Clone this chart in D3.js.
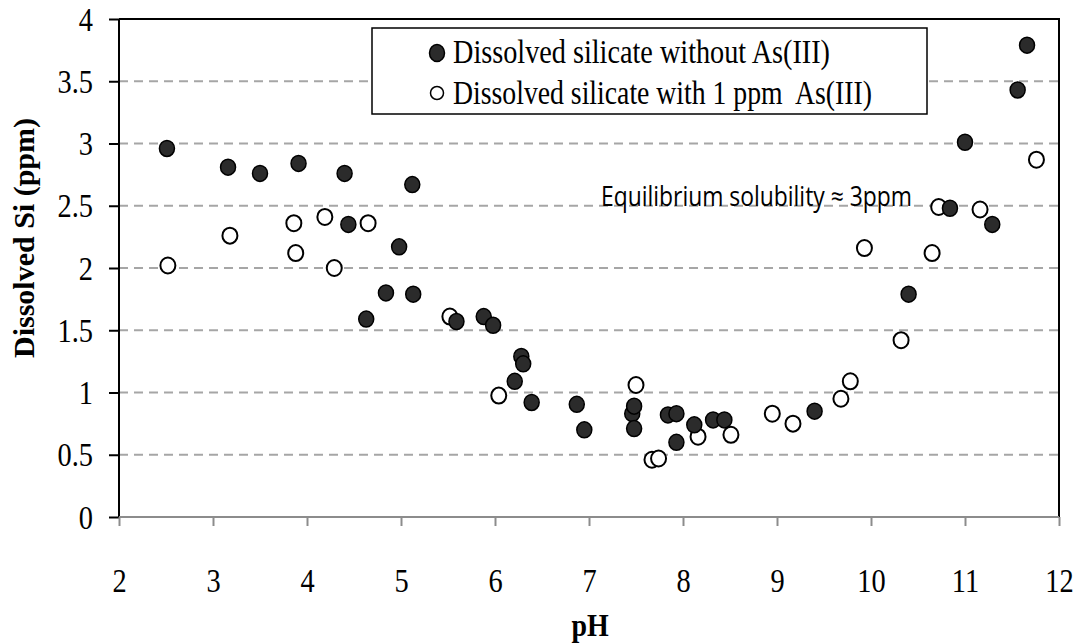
<!DOCTYPE html>
<html>
<head>
<meta charset="utf-8">
<script src="https://cdn.jsdelivr.net/npm/d3@7/dist/d3.min.js"></script>
<style>
  html, body { margin: 0; padding: 0; background: #fff; }
  svg { display: block; }
</style>
</head>
<body>
<svg id="chart" width="1083" height="643"></svg>
<script>
// pH and dissolved Si (ppm), silicate without As(III)
const phWithout = [2.51, 3.16, 3.50, 3.91, 4.40, 4.44, 4.63, 4.84, 4.98, 5.12, 5.13, 5.59, 5.88, 5.98,
  6.21, 6.28, 6.30, 6.39, 6.87, 6.95, 7.46, 7.48, 7.48, 7.84, 7.93, 7.93, 8.12, 8.32, 8.44,
  9.40, 10.40, 10.84, 11.00, 11.29, 11.56, 11.66];
const siWithout = [2.96, 2.81, 2.76, 2.84, 2.76, 2.35, 1.59, 1.80, 2.17, 2.67, 1.79, 1.57, 1.61, 1.54,
  1.09, 1.29, 1.23, 0.92, 0.905, 0.70, 0.83, 0.89, 0.71, 0.82, 0.83, 0.60, 0.74, 0.78, 0.78,
  0.85, 1.79, 2.48, 3.01, 2.35, 3.43, 3.79];

// pH and dissolved Si (ppm), silicate with 1 ppm As(III)
const phWith = [2.52, 3.18, 3.86, 3.88, 4.19, 4.29, 4.65, 5.52, 6.04, 7.50, 7.67, 7.74, 8.16, 8.51,
  8.95, 9.17, 9.68, 9.78, 9.93, 10.32, 10.65, 10.72, 11.16, 11.76];
const siWith = [2.02, 2.26, 2.36, 2.12, 2.41, 2.00, 2.36, 1.61, 0.975, 1.06, 0.46, 0.47, 0.645, 0.66,
  0.83, 0.75, 0.95, 1.09, 2.16, 1.42, 2.12, 2.49, 2.47, 2.87];

const xTicks = [2, 3, 4, 5, 6, 7, 8, 9, 10, 11, 12];
const yTicks = [0, 0.5, 1, 1.5, 2, 2.5, 3, 3.5, 4];
const yGrid = [0.5, 1, 1.5, 2, 2.5, 3, 3.5];

const seriesNames = ["Dissolved silicate without As(III)", "Dissolved silicate with 1 ppm  As(III)"];
const noteText = "Equilibrium solubility  \u2248 3ppm";

const serif = "'Liberation Serif', 'Times New Roman', serif";
const sans = "'Liberation Sans Narrow', 'Open Sans', 'Liberation Sans', sans-serif";

// narrow a text element horizontally to a fraction of its natural width
function condense(sel, k) {
  sel.each(function () {
    const w = this.getComputedTextLength();
    d3.select(this).attr("textLength", w * k).attr("lengthAdjust", "spacingAndGlyphs");
  });
}

const svg = d3.select("#chart");
const x = d3.scaleLinear().domain([2, 12]).range([119, 1059]);
const y = d3.scaleLinear().domain([0, 4]).range([517, 19]);

// dashed horizontal gridlines
svg.append("g").selectAll("line").data(yGrid).join("line")
  .attr("x1", x(2)).attr("x2", x(12))
  .attr("y1", d => y(d)).attr("y2", d => y(d))
  .attr("stroke", "#a6a6a6").attr("stroke-width", 2)
  .attr("stroke-dasharray", "9,6");

// plot-area frame (top and right)
svg.append("path")
  .attr("d", `M${x(2)},${y(4)}H${x(12)}V${y(0)}`)
  .attr("fill", "none").attr("stroke", "#000").attr("stroke-width", 2);

// y axis
const yAxis = svg.append("g")
  .attr("transform", `translate(${x(2)},0)`)
  .call(d3.axisLeft(y).tickValues(yTicks).tickSize(10).tickPadding(16)
    .tickFormat(d => String(d)));
yAxis.select(".domain").attr("stroke", "#000").attr("stroke-width", 2)
  .attr("d", `M0,${y(0)}V${y(4)}`);
yAxis.selectAll(".tick line").attr("stroke", "#000").attr("stroke-width", 2);
yAxis.selectAll(".tick text")
  .attr("font-family", serif).attr("font-size", 33).attr("fill", "#000")
  .attr("dy", "0.34em")
  .call(condense, 0.86);

// x axis
const xAxis = svg.append("g")
  .attr("transform", `translate(0,${y(0)})`)
  .call(d3.axisBottom(x).tickValues(xTicks).tickSize(9).tickPadding(22)
    .tickFormat(d => String(d)));
xAxis.select(".domain").attr("stroke", "#8c8c8c").attr("stroke-width", 2)
  .attr("d", `M${x(2)},0H${x(12)}`);
xAxis.selectAll(".tick line").attr("stroke", "#8c8c8c").attr("stroke-width", 2);
xAxis.selectAll(".tick text")
  .attr("font-family", serif).attr("font-size", 33).attr("fill", "#000")
  .attr("y", 75).attr("dy", 0)
  .call(condense, 0.86);

// axis titles
svg.append("text")
  .attr("transform", "translate(34,238) rotate(-90)")
  .attr("text-anchor", "middle")
  .attr("font-family", serif).attr("font-weight", "bold").attr("font-size", 30)
  .text("Dissolved Si (ppm)");
svg.append("text")
  .attr("x", 590).attr("y", 636)
  .attr("text-anchor", "middle")
  .attr("font-family", serif).attr("font-weight", "bold").attr("font-size", 31)
  .text("pH")
  .call(condense, 0.9);

// annotation
svg.append("text")
  .attr("x", 601).attr("y", 206)
  .attr("font-family", sans).attr("font-size", 27)
  .attr("textLength", 311).attr("lengthAdjust", "spacingAndGlyphs")
  .attr("fill", "#000")
  .text(noteText);

// markers: open series beneath, filled series on top
const withPts = phWith.map((p, i) => [p, siWith[i]]);
const withoutPts = phWithout.map((p, i) => [p, siWithout[i]]);

svg.append("g").selectAll("ellipse").data(withPts).join("ellipse")
  .attr("cx", d => x(d[0])).attr("cy", d => y(d[1]))
  .attr("rx", 7.5).attr("ry", 8)
  .attr("fill", "#fff").attr("stroke", "#000").attr("stroke-width", 2);

svg.append("g").selectAll("ellipse").data(withoutPts).join("ellipse")
  .attr("cx", d => x(d[0])).attr("cy", d => y(d[1]))
  .attr("rx", 7.5).attr("ry", 8)
  .attr("fill", "#2b2b2b").attr("stroke", "#000").attr("stroke-width", 1.5);

// legend
const legend = svg.append("g");
legend.append("rect")
  .attr("x", 372).attr("y", 28).attr("width", 555).attr("height", 86)
  .attr("fill", "#fff").attr("stroke", "#000").attr("stroke-width", 1.5);
const rows = [
  { name: seriesNames[0], fill: "#2b2b2b", rx: 7.5, ry: 8.5, cy: 53, base: 63, len: 377 },
  { name: seriesNames[1], fill: "#fff", rx: 6.5, ry: 6.5, cy: 93, base: 104, len: 419 }
];
rows.forEach(r => {
  legend.append("ellipse")
    .attr("cx", 437).attr("cy", r.cy).attr("rx", r.rx).attr("ry", r.ry)
    .attr("fill", r.fill).attr("stroke", "#000").attr("stroke-width", 1.5);
  legend.append("text")
    .attr("x", 453).attr("y", r.base)
    .attr("font-family", serif).attr("font-size", 33)
    .attr("textLength", r.len).attr("lengthAdjust", "spacingAndGlyphs")
    .style("white-space", "pre")
    .text(r.name);
});
</script>
</body>
</html>
